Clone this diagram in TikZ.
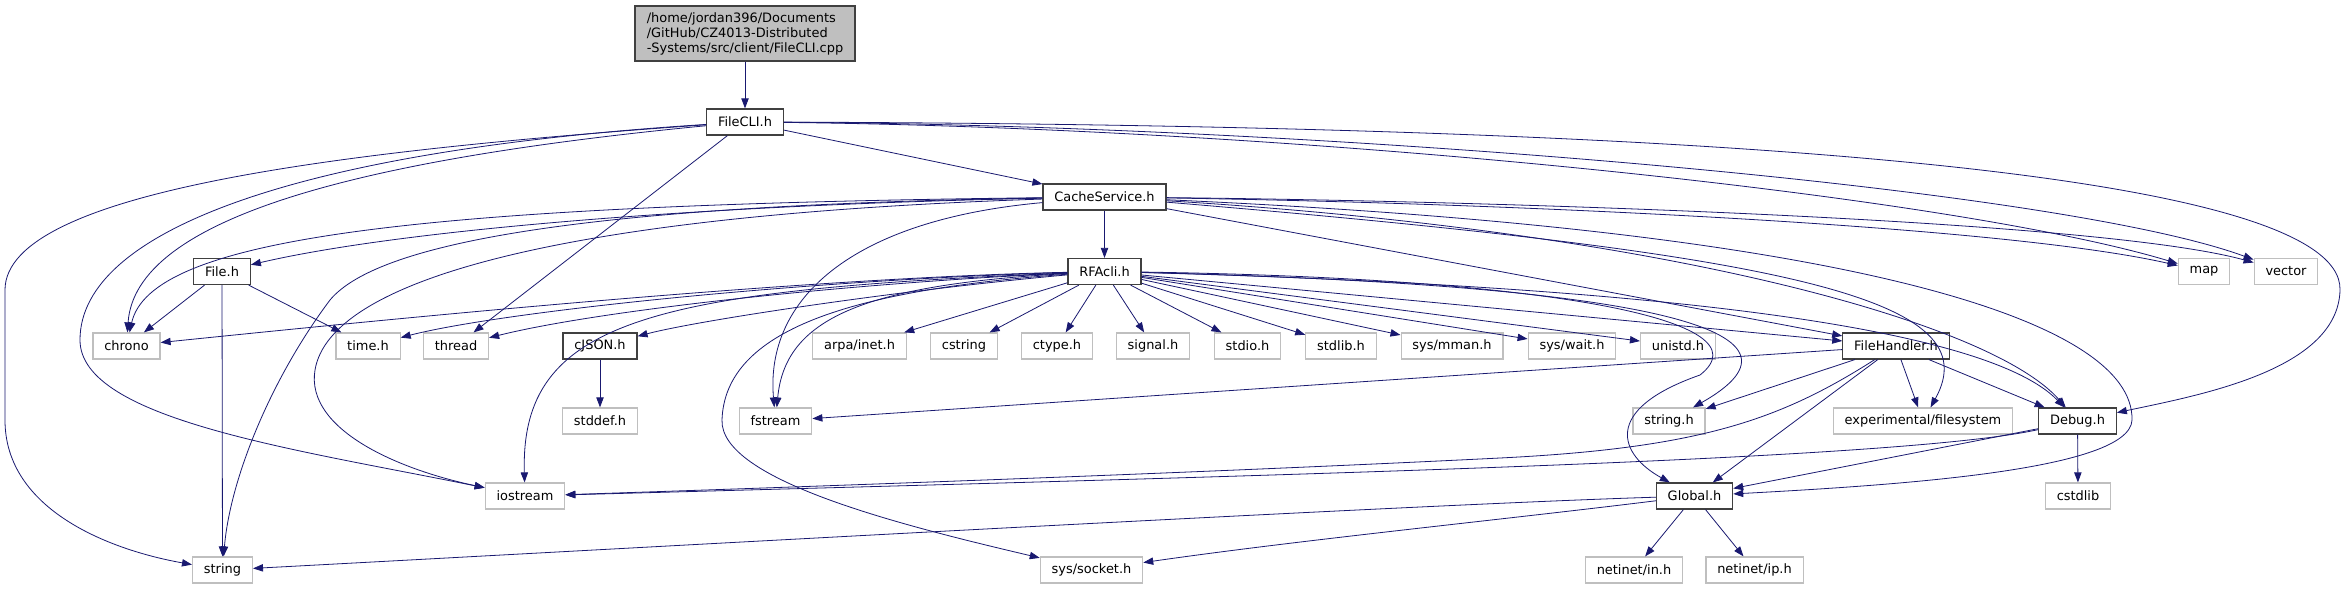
\documentclass[tikz,border=0pt]{standalone}
\usepackage{fontspec}
\setmainfont{DejaVu Sans}
\usetikzlibrary{arrows.meta}
\definecolor{doxEdge}{RGB}{25,25,112}
\definecolor{doxGray}{RGB}{191,191,191}
\definecolor{doxDark}{RGB}{64,64,64}

\begin{document}
\begin{tikzpicture}[x=0.75pt, y=-0.75pt,
    hdr/.style={rectangle, draw=doxDark, fill=white, line width=0.9pt,
                minimum height=19.5pt, inner xsep=8.5pt, inner ysep=0pt,
                font=\fontsize{9.7}{11.25}\selectfont},
    sys/.style={hdr, draw=doxGray},
    src/.style={hdr, fill=doxGray, align=left, minimum width=165pt, minimum height=41.25pt},
    dep/.style={-{Triangle[length=7.5pt,width=5.5pt]}, draw=doxEdge, line width=0.6pt}
  ]
  \path[use as bounding box, fill=white] (0,0) rectangle (2343,589);

  % Source file and project headers
  \node[src] (root)    at (745,33.5)   {/home/jordan396/Documents\\/GitHub/CZ4013-Distributed\\-Systems/src/client/FileCLI.cpp};
  \node[hdr] (filecli) at (745,122)    {FileCLI.h};
  \node[hdr] (cache)   at (1104.5,197) {CacheService.h};
  \node[hdr] (rfacli)  at (1104.5,271.5) {RFAcli.h};
  \node[hdr] (fileh)   at (222,271.5)  {File.h};
  \node[sys] (map)     at (2204,271.5) {map};
  \node[sys] (vector)  at (2286,271.5) {vector};

  % Third row
  \node[sys] (chrono)  at (126.5,346)  {chrono};
  \node[sys] (timeh)   at (368,346)    {time.h};
  \node[sys] (thread)  at (456,346)    {thread};
  \node[hdr] (cjson)   at (600,346)    {cJSON.h};
  \node[sys] (arpa)    at (859.5,346)  {arpa/inet.h};
  \node[sys] (cstring) at (964,346)    {cstring};
  \node[sys] (ctype)   at (1057,346)   {ctype.h};
  \node[sys] (signal)  at (1153,346)   {signal.h};
  \node[sys] (stdio)   at (1247.5,346) {stdio.h};
  \node[sys] (stdlib)  at (1341,346)   {stdlib.h};
  \node[sys] (mman)    at (1452,346)   {sys/mman.h};
  \node[sys] (wait)    at (1572,346)   {sys/wait.h};
  \node[sys] (unistd)  at (1678,346)   {unistd.h};
  \node[hdr] (fhandler) at (1896,346)  {FileHandler.h};

  % Fourth row
  \node[sys] (stddef)  at (600,421)    {stddef.h};
  \node[sys] (fstream) at (775.5,421)  {fstream};
  \node[sys] (stringh) at (1669,421)   {string.h};
  \node[sys] (expfs)   at (1923,421)   {experimental/filesystem};
  \node[hdr] (debug)   at (2077.5,421) {Debug.h};

  % Fifth row
  \node[sys] (iostream) at (525,496)   {iostream};
  \node[hdr] (global)  at (1694.5,496) {Global.h};
  \node[sys] (cstdlib) at (2078,496)   {cstdlib};

  % Bottom row
  \node[sys] (string)  at (222.5,570)  {string};
  \node[sys] (socket)  at (1091.5,570) {sys/socket.h};
  \node[sys] (netin)   at (1634,570)   {netinet/in.h};
  \node[sys] (netip)   at (1754.5,570) {netinet/ip.h};

  % FileCLI.cpp and FileCLI.h
  \draw[dep] (root) -- (filecli);
  \draw[dep] (filecli) -- (cache);
  \draw[dep] (filecli) -- (thread);
  \draw[dep] (filecli) .. controls (350,160) and (135,220) .. (chrono);
  \draw[dep] (filecli) .. controls (300,150) and (80,230) .. (80,340)
                       .. controls (80,420) and (300,450) .. (iostream);
  \draw[dep] (filecli) .. controls (350,150) and (5,190) .. (5,290) -- (5,420)
                       .. controls (5,510) and (110,550) .. (string);
  \draw[dep] (filecli) .. controls (1300,128) and (1950,195) .. (map);
  \draw[dep] (filecli) .. controls (1300,125) and (2050,185) .. (vector);
  \draw[dep] (filecli) .. controls (1700,125) and (2343,170) .. (2340,290)
                       .. controls (2338,370) and (2200,395) .. (debug);

  % CacheService.h
  \draw[dep] (cache) -- (rfacli);
  \draw[dep] (cache) .. controls (700,205) and (400,230) .. (fileh);
  \draw[dep] (cache) .. controls (400,205) and (150,240) .. (chrono);
  \draw[dep] (cache) .. controls (600,205) and (380,240) .. (330,300)
                     .. controls (270,380) and (230,480) .. (string);
  \draw[dep] (cache) .. controls (560,215) and (330,280) .. (315,370)
                     .. controls (305,430) and (400,470) .. (iostream);
  \draw[dep] (cache) .. controls (850,220) and (765,300) .. (fstream);
  \draw[dep] (cache) .. controls (1500,203) and (2000,225) .. (map);
  \draw[dep] (cache) .. controls (1500,201) and (2100,220) .. (vector);
  \draw[dep] (cache) .. controls (1650,230) and (1990,320) .. (debug);
  \draw[dep] (cache) .. controls (1800,255) and (1990,300) .. (expfs);
  \draw[dep] (cache) .. controls (1850,230) and (2134,320) .. (2132,420)
                     .. controls (2130,470) and (1900,485) .. (global);
  \draw[dep] (cache) -- (fhandler);

  % RFAcli.h
  \draw[dep] (rfacli) .. controls (800,278) and (400,318) .. (chrono);
  \draw[dep] (rfacli) .. controls (800,280) and (500,312) .. (timeh);
  \draw[dep] (rfacli) .. controls (850,283) and (600,310) .. (thread);
  \draw[dep] (rfacli) .. controls (900,290) and (700,320) .. (cjson);
  \draw[dep] (rfacli) .. controls (650,290) and (520,320) .. (iostream);
  \draw[dep] (rfacli) .. controls (860,285) and (785,320) .. (fstream);
  \draw[dep] (rfacli) .. controls (850,290) and (725,330) .. (722,420)
                      .. controls (720,480) and (900,525) .. (socket);
  \draw[dep] (rfacli) -- (arpa);
  \draw[dep] (rfacli) -- (cstring);
  \draw[dep] (rfacli) -- (ctype);
  \draw[dep] (rfacli) -- (signal);
  \draw[dep] (rfacli) -- (stdio);
  \draw[dep] (rfacli) -- (stdlib);
  \draw[dep] (rfacli) -- (mman);
  \draw[dep] (rfacli) -- (wait);
  \draw[dep] (rfacli) -- (unistd);
  \draw[dep] (rfacli) -- (fhandler);
  \draw[dep] (rfacli) .. controls (1600,285) and (1980,320) .. (debug);
  \draw[dep] (rfacli) .. controls (1650,285) and (1830,330) .. (stringh);
  \draw[dep] (rfacli) .. controls (1550,278) and (1770,320) .. (1700,375)
                      .. controls (1600,410) and (1620,455) .. (global);

  % FileHandler.h
  \draw[dep] (fhandler) -- (fstream);
  \draw[dep] (fhandler) -- (stringh);
  \draw[dep] (fhandler) .. controls (1780,420) and (1700,448) .. (1500,458)
                        .. controls (1200,473) and (800,487) .. (iostream);
  \draw[dep] (fhandler) -- (expfs);
  \draw[dep] (fhandler) -- (debug);
  \draw[dep] (fhandler) -- (global);

  % Debug.h
  \draw[dep] (debug) -- (cstdlib);
  \draw[dep] (debug) -- (global);
  \draw[dep] (debug) .. controls (1900,460) and (1300,475) .. (iostream);

  % Global.h
  \draw[dep] (global) .. controls (1400,505) and (600,550) .. (string);
  \draw[dep] (global) .. controls (1500,520) and (1300,540) .. (socket);
  \draw[dep] (global) -- (netin);
  \draw[dep] (global) -- (netip);

  % File.h and cJSON.h
  \draw[dep] (fileh) -- (chrono);
  \draw[dep] (fileh) -- (timeh);
  \draw[dep] (fileh) -- (string);
  \draw[dep] (cjson) -- (stddef);
\end{tikzpicture}
\end{document}
